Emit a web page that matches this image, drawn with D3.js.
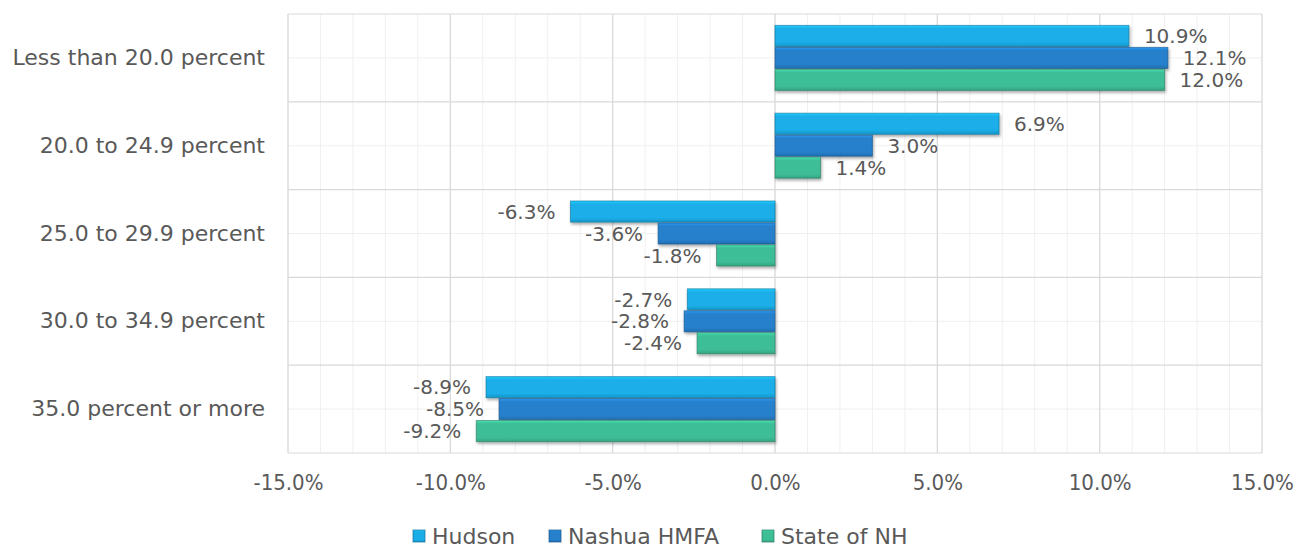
<!DOCTYPE html>
<html>
<head>
<meta charset="utf-8">
<script src="https://cdn.jsdelivr.net/npm/d3@7"></script>
<style>
  body { margin: 0; background: #fff; }
  text { font-family: "Century Gothic", "DejaVu Sans", sans-serif; fill: #595959; }
  .num { font-family: "Century Gothic", "DejaVu Sans Condensed", "DejaVu Sans", sans-serif; }
</style>
</head>
<body>
<div id="chart-area"></div>
<script>
// data
var categories = ["Less than 20.0 percent", "20.0 to 24.9 percent", "25.0 to 29.9 percent",
                  "30.0 to 34.9 percent", "35.0 percent or more"];
var seriesNames = ["Hudson", "Nashua HMFA", "State of NH"];
var hudson = [10.9, 6.9, -6.3, -2.7, -8.9];
var nashua = [12.1, 3.0, -3.6, -2.8, -8.5];
var stateNH = [12.0, 1.4, -1.8, -2.4, -9.2];
var xTicks = [-15, -10, -5, 0, 5, 10, 15];

var seriesValues = [hudson, nashua, stateNH];
var colors = ["#1aaee8", "#2680cc", "#3dbe96"];

var W = 1307, H = 548;
var margin = { left: 288, right: 45, top: 14, bottom: 95 };
var width = W - margin.left - margin.right,
    height = H - margin.top - margin.bottom;

var svg = d3.select("#chart-area")
    .append("svg")
        .attr("width", W)
        .attr("height", H);

var defs = svg.append("defs");

// bevel-ish gradients
colors.forEach(function(c, i) {
    var grad = defs.append("linearGradient")
        .attr("id", "grad" + i)
        .attr("x1", 0).attr("y1", 0).attr("x2", 0).attr("y2", 1);
    grad.append("stop").attr("offset", "0%").attr("stop-color", d3.color(c).brighter(0.5));
    grad.append("stop").attr("offset", "15%").attr("stop-color", c);
    grad.append("stop").attr("offset", "80%").attr("stop-color", c);
    grad.append("stop").attr("offset", "100%").attr("stop-color", d3.color(c).darker(0.4));
});

var shadow = defs.append("filter")
    .attr("id", "shadow")
    .attr("x", "-10%").attr("y", "-30%")
    .attr("width", "120%").attr("height", "170%");
shadow.append("feDropShadow")
    .attr("dx", 1).attr("dy", 2)
    .attr("stdDeviation", 1.5)
    .attr("flood-color", "#000")
    .attr("flood-opacity", 0.35);

var g = svg.append("g")
    .attr("transform", "translate(" + margin.left + "," + margin.top + ")");

// scales
var x = d3.scaleLinear()
    .domain([-15, 15])
    .range([0, width]);

var y0 = d3.scaleBand()
    .domain(categories)
    .range([0, height])
    .paddingInner(0.24)
    .paddingOuter(0.12);

var y1 = d3.scaleBand()
    .domain(seriesNames)
    .range([0, y0.bandwidth()])
    .padding(0.04);

// minor vertical gridlines
g.append("g").selectAll("line")
    .data(d3.range(-15, 16, 1))
    .enter().append("line")
        .attr("x1", function(d) { return x(d); })
        .attr("x2", function(d) { return x(d); })
        .attr("y1", 0)
        .attr("y2", height)
        .attr("stroke", "#f0f0f0")
        .attr("stroke-width", 1);

// minor horizontal gridlines (category centers)
g.append("g").selectAll("line")
    .data(categories)
    .enter().append("line")
        .attr("x1", 0)
        .attr("x2", width)
        .attr("y1", function(d, i) { return (i + 0.5) * height / categories.length; })
        .attr("y2", function(d, i) { return (i + 0.5) * height / categories.length; })
        .attr("stroke", "#f0f0f0")
        .attr("stroke-width", 1);

// major vertical gridlines
g.append("g").selectAll("line")
    .data(xTicks)
    .enter().append("line")
        .attr("x1", function(d) { return x(d); })
        .attr("x2", function(d) { return x(d); })
        .attr("y1", 0)
        .attr("y2", height)
        .attr("stroke", "#d9d9d9")
        .attr("stroke-width", 1.2);

// major horizontal gridlines (category boundaries)
g.append("g").selectAll("line")
    .data(d3.range(categories.length + 1))
    .enter().append("line")
        .attr("x1", 0)
        .attr("x2", width)
        .attr("y1", function(d) { return d * height / categories.length; })
        .attr("y2", function(d) { return d * height / categories.length; })
        .attr("stroke", "#d9d9d9")
        .attr("stroke-width", 1.2);

// X axis labels
var xAxisCall = d3.axisBottom(x)
    .tickValues(xTicks)
    .tickSize(0)
    .tickPadding(21)
    .tickFormat(function(d) { return d.toFixed(1) + "%"; });
var xAxis = g.append("g")
    .attr("class", "x axis")
    .attr("transform", "translate(0," + height + ")")
    .call(xAxisCall);
xAxis.select(".domain").remove();
xAxis.selectAll("text")
    .attr("class", "num")
    .attr("font-size", "22px")
    .attr("font-family", null)
    .attr("fill", "#595959");

// Y category labels
var yAxisCall = d3.axisLeft(y0)
    .tickSize(0)
    .tickPadding(23);
var yAxis = g.append("g")
    .attr("class", "y axis")
    .call(yAxisCall);
yAxis.select(".domain").remove();
yAxis.selectAll("text")
    .attr("font-size", "22px")
    .attr("font-family", null)
    .attr("fill", "#595959");

// bars
var groups = g.selectAll("g.cat")
    .data(categories)
    .enter().append("g")
        .attr("class", "cat")
        .attr("transform", function(d) { return "translate(0," + y0(d) + ")"; });

groups.each(function(cat, ci) {
    var grp = d3.select(this);
    seriesNames.forEach(function(s, si) {
        var v = seriesValues[si][ci];
        grp.append("rect")
            .attr("x", x(Math.min(0, v)))
            .attr("y", y1(s))
            .attr("width", Math.abs(x(v) - x(0)))
            .attr("height", y1.bandwidth())
            .attr("fill", "url(#grad" + si + ")")
            .attr("stroke", d3.color(colors[si]).darker(1.2))
            .attr("stroke-opacity", 0.6)
            .attr("stroke-width", 1)
            .attr("filter", "url(#shadow)");

        grp.append("text")
            .attr("x", v >= 0 ? x(v) + 15 : x(v) - 15)
            .attr("y", y1(s) + y1.bandwidth() / 2)
            .attr("dy", "0.36em")
            .attr("text-anchor", v >= 0 ? "start" : "end")
            .attr("font-size", "20px")
            .text(v.toFixed(1) + "%");
    });
});

// legend
var legendX = [413, 549, 762];
var legend = svg.append("g")
    .attr("transform", "translate(0," + 536 + ")");
seriesNames.forEach(function(s, i) {
    var row = legend.append("g")
        .attr("transform", "translate(" + legendX[i] + ",0)");
    row.append("rect")
        .attr("x", 0)
        .attr("y", -6)
        .attr("width", 12)
        .attr("height", 12)
        .attr("fill", "url(#grad" + i + ")")
        .attr("stroke", d3.color(colors[i]).darker(1.2))
        .attr("stroke-opacity", 0.7);
    row.append("text")
        .attr("x", 19)
        .attr("y", 0)
        .attr("dy", "0.35em")
        .attr("font-size", "22px")
        .text(s);
});
</script>
</body>
</html>
